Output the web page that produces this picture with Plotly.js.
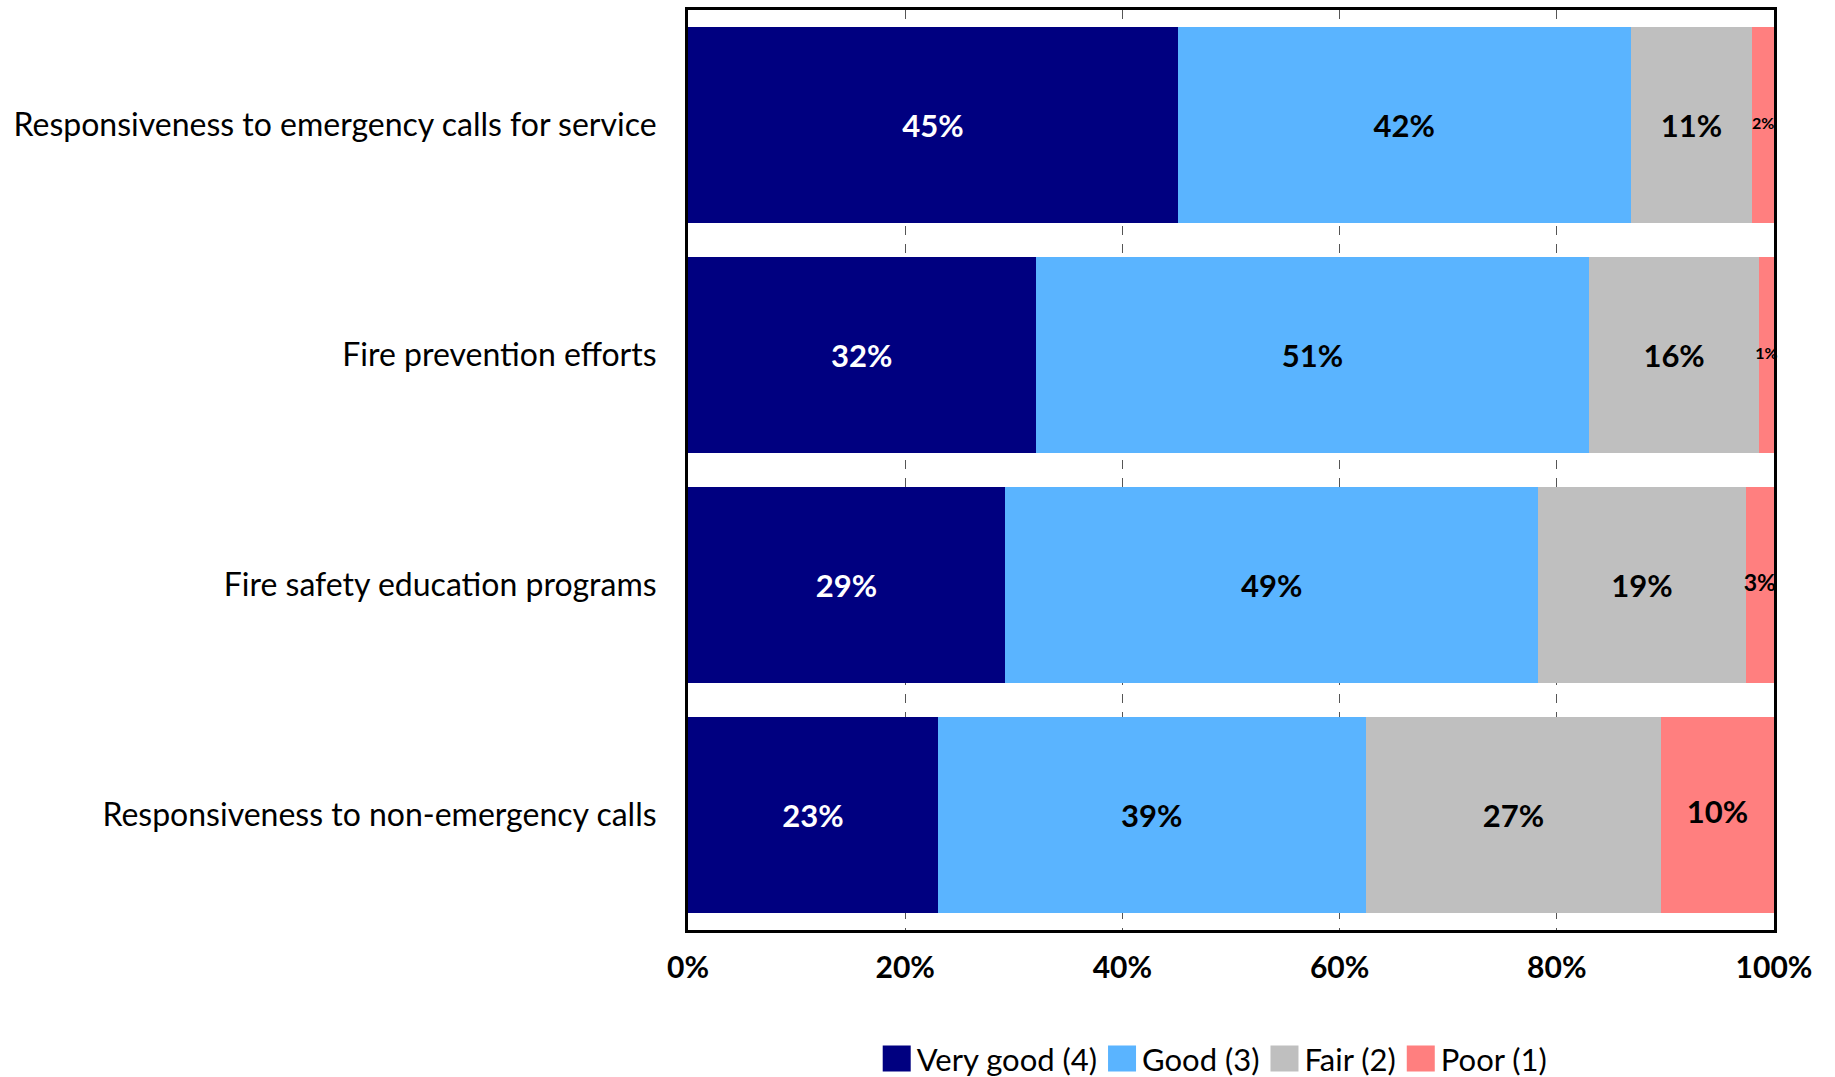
<!DOCTYPE html>
<html>
<head>
<meta charset="utf-8">
<script src="https://cdn.plot.ly/plotly-3.0.1.min.js"></script>
<style>
  html, body { margin: 0; padding: 0; background: #ffffff; }
  #chart { width: 1835px; height: 1077px; }
</style>
</head>
<body>
<div id="chart"></div>
<script>
const categories = [
  "Responsiveness to emergency calls for service",
  "Fire prevention efforts",
  "Fire safety education programs",
  "Responsiveness to non-emergency calls"
];
const seriesNames = ["Very good (4)", "Good (3)", "Fair (2)", "Poor (1)"];
const veryGood = [45.1, 32.0, 29.2, 23.0];
const good = [41.7, 51.0, 49.1, 39.4];
const fair = [11.2, 15.6, 19.1, 27.2];
const poor = [2.0, 1.4, 2.6, 10.4];
const xTickValues = [0, 20, 40, 60, 80, 100];
const xTickLabels = ["0%", "20%", "40%", "60%", "80%", "100%"];

const colors = ["#000080", "#5AB4FF", "#BFBFBF", "#FF7F7F"];
const textColors = ["#ffffff", "#000000", "#000000", "#000000"];
const poorLabelSizes = [16, 16, 23, 31];
const FONT = "Lato, 'Open Sans', sans-serif";

const seriesValues = [veryGood, good, fair, poor];
const fmt = v => Math.round(v) + "%";

const traces = seriesValues.map((vals, i) => ({
  type: "bar",
  orientation: "h",
  name: seriesNames[i],
  y: categories,
  x: vals,
  marker: { color: colors[i], line: { width: 0 } },
  text: vals.map(fmt),
  textposition: i === 3 ? "none" : "inside",
  insidetextanchor: "middle",
  textangle: 0,
  constraintext: "none",
  textfont: { family: FONT, size: 31, color: textColors[i], weight: "bold" },
  hoverinfo: "name+x"
}));

// labels for the narrow "Poor" segments, placed at each segment's centre
const poorCentres = poor.map((v, k) => veryGood[k] + good[k] + fair[k] + v / 2);
traces.push({
  type: "scatter",
  mode: "text",
  x: poorCentres,
  y: categories,
  text: poor.map(fmt),
  textposition: "middle center",
  textfont: { family: FONT, size: poorLabelSizes, color: "#000000", weight: "bold" },
  cliponaxis: false,
  showlegend: false,
  hoverinfo: "skip"
});

const layout = {
  width: 1835,
  height: 1077,
  margin: { l: 688, r: 61, t: 10, b: 147, autoexpand: false },
  paper_bgcolor: "#ffffff",
  plot_bgcolor: "#ffffff",
  barmode: "stack",
  bargap: 0.15,
  font: { family: FONT, color: "#000000", size: 31 },
  xaxis: {
    range: [0, 100],
    tickvals: xTickValues,
    ticktext: xTickLabels,
    tickfont: { family: FONT, size: 30, color: "#000000", weight: "bold" },
    ticks: "",
    ticklabelstandoff: 9,
    showgrid: true,
    gridcolor: "#555555",
    gridwidth: 1,
    griddash: "dash",
    zeroline: false,
    showline: true,
    linecolor: "#000000",
    linewidth: 3,
    mirror: true,
    fixedrange: true
  },
  yaxis: {
    type: "category",
    categoryorder: "array",
    categoryarray: categories,
    autorange: "reversed",
    tickfont: { family: FONT, size: 32, color: "#000000" },
    ticks: "",
    ticklabelstandoff: 22,
    showgrid: false,
    zeroline: false,
    showline: true,
    linecolor: "#000000",
    linewidth: 3,
    mirror: true,
    fixedrange: true
  },
  legend: {
    orientation: "h",
    x: 0.485,
    xanchor: "center",
    y: -0.14,
    yanchor: "middle",
    font: { family: FONT, size: 31, color: "#000000" },
    traceorder: "normal",
    itemsizing: "constant"
  },
  showlegend: true
};

function enlargeLegendSymbols() {
  document.querySelectorAll("#chart .legendpoints path").forEach(p => {
    p.setAttribute("d", "M14,13H-14V-13H14Z");
  });
}

Plotly.newPlot("chart", traces, layout, { displayModeBar: false }).then(gd => {
  enlargeLegendSymbols();
  gd.on("plotly_afterplot", enlargeLegendSymbols);
});
</script>
</body>
</html>
